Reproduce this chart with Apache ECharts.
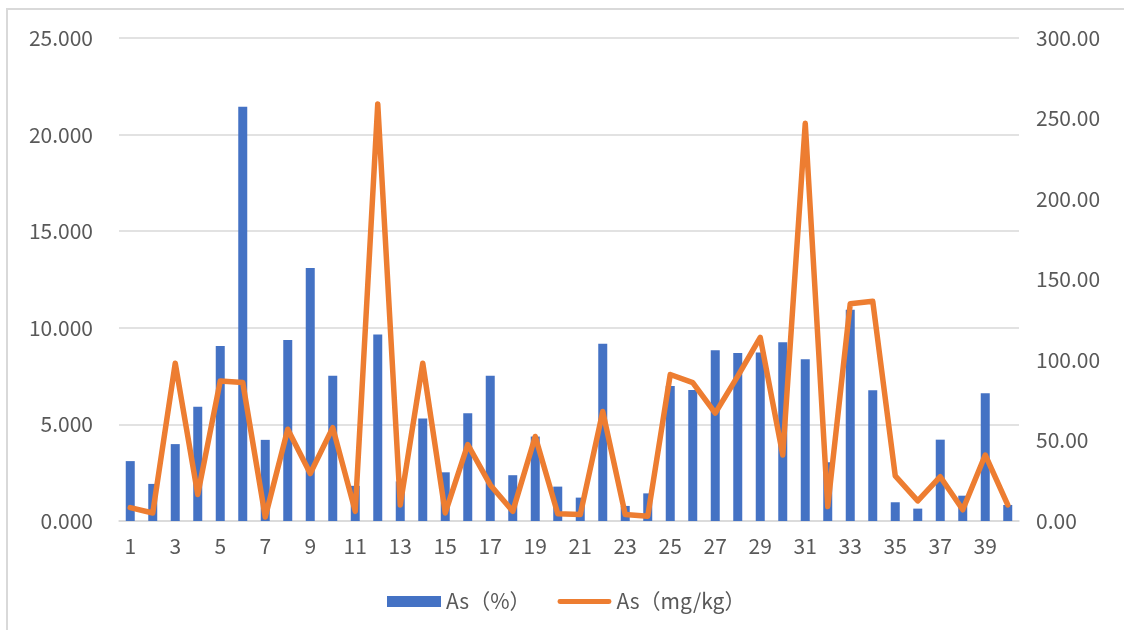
<!DOCTYPE html>
<html>
<head>
<meta charset="utf-8">
<script src="https://cdn.jsdelivr.net/npm/echarts@6/dist/echarts.min.js"></script>
<style>
  html, body { margin: 0; padding: 0; background: #fff; }
  #chart { width: 1124px; height: 630px; }
</style>
</head>
<body>
<div id="chart"></div>
<script>
const categories = ["1","2","3","4","5","6","7","8","9","10","11","12","13","14","15","16","17","18","19","20","21","22","23","24","25","26","27","28","29","30","31","32","33","34","35","36","37","38","39","40"];
const asPercent = [3.10, 1.92, 3.98, 5.92, 9.06, 21.44, 4.20, 9.37, 13.09, 7.52, 1.82, 9.65, 2.05, 5.30, 2.52, 5.58, 7.52, 2.37, 4.37, 1.78, 1.21, 9.18, 0.78, 1.43, 6.99, 6.78, 8.84, 8.70, 8.72, 9.25, 8.37, 3.04, 10.93, 6.77, 0.97, 0.64, 4.21, 1.31, 6.61, 0.83];
const asMgKg = [8.3, 5, 98, 16.5, 87, 86, 2.5, 57, 29.5, 58, 6, 259, 10, 98, 5, 47.5, 22.4, 6, 52.5, 4.5, 4, 68, 4, 3, 91, 86, 67, 90, 114, 41, 247, 9, 135, 136.5, 28, 12.5, 27.5, 7, 41, 10];
const seriesNames = ["As（%）", "As（mg/kg）"];
const leftTicks = { min: 0, max: 25, interval: 5 };
const rightTicks = { min: 0, max: 300, interval: 50 };

const FONT = '"Noto Sans CJK SC", "Liberation Sans", sans-serif';
const TXT = '#595959';
const GRID = '#d9d9d9';

const chart = echarts.init(document.getElementById('chart'), null, { renderer: 'canvas' });
chart.setOption({
  animation: false,
  backgroundColor: '#ffffff',
  textStyle: { fontFamily: FONT },
  graphic: [{
    type: 'rect',
    shape: { x: 7, y: 9, width: 1300, height: 800 },
    style: { fill: 'none', stroke: GRID, lineWidth: 2 },
    silent: true
  }],
  grid: { left: 119, right: 105, top: 38, bottom: 109 },
  legend: {
    data: [
      { name: seriesNames[0], icon: 'rect' },
      { name: seriesNames[1], icon: 'path://M2.5,0 L53.5,0 A2.5,2.5 0 0 1 53.5,5 L2.5,5 A2.5,2.5 0 0 1 2.5,0 Z' }
    ],
    top: 586,
    left: 382,
    itemWidth: 54,
    itemHeight: 11,
    itemGap: 27,
    textStyle: { color: TXT, fontSize: 21, fontFamily: FONT }
  },
  xAxis: {
    type: 'category',
    data: categories,
    boundaryGap: true,
    axisLine: { lineStyle: { color: GRID, width: 1.5 } },
    axisTick: { show: false },
    axisLabel: { interval: 1, color: TXT, fontSize: 21, margin: 15, fontFamily: FONT }
  },
  yAxis: [{
    type: 'value',
    min: leftTicks.min, max: leftTicks.max, interval: leftTicks.interval,
    axisLine: { show: false },
    axisTick: { show: false },
    splitLine: { lineStyle: { color: GRID, width: 1.5 } },
    axisLabel: { color: TXT, fontSize: 21, margin: 26, fontFamily: FONT, formatter: v => v.toFixed(3) }
  }, {
    type: 'value',
    min: rightTicks.min, max: rightTicks.max, interval: rightTicks.interval,
    position: 'right',
    axisLine: { show: false },
    axisTick: { show: false },
    splitLine: { show: false },
    axisLabel: { color: TXT, fontSize: 21, margin: 17, fontFamily: FONT, formatter: v => v.toFixed(2) }
  }],
  series: [{
    name: seriesNames[0],
    type: 'bar',
    yAxisIndex: 0,
    data: asPercent,
    barWidth: 9,
    itemStyle: { color: '#4472C4' }
  }, {
    name: seriesNames[1],
    type: 'line',
    yAxisIndex: 1,
    data: asMgKg,
    symbol: 'none',
    showSymbol: false,
    lineStyle: { color: '#ED7D31', width: 5.5, join: 'round', cap: 'round' },
    itemStyle: { color: '#ED7D31' }
  }]
});
</script>
</body>
</html>
